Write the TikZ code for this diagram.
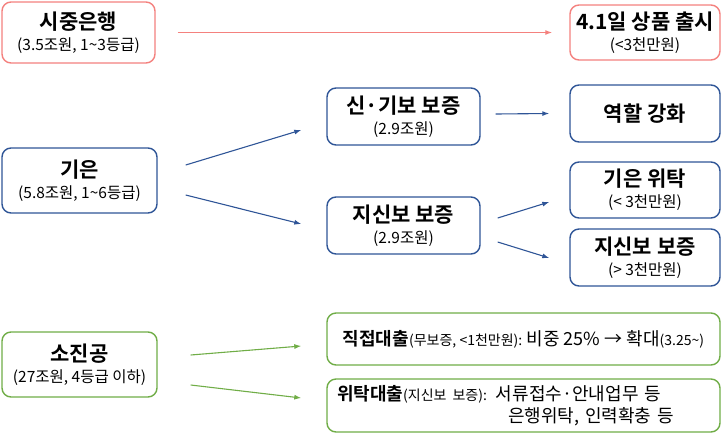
\documentclass[tikz,border=0pt]{standalone}
\usepackage{fontspec}
\setmainfont{Noto Sans CJK KR}[BoldFont={Noto Sans CJK KR Bold}]
\usetikzlibrary{arrows.meta}

\definecolor{boxred}{HTML}{F4817E}
\definecolor{boxblue}{HTML}{2F5597}
\definecolor{boxgreen}{HTML}{70AD47}

\newcommand{\ttl}[1]{{\bfseries\fontsize{21}{24}\selectfont #1}}
\newcommand{\sub}[1]{{\fontsize{15.5}{17}\selectfont #1}}
\newcommand{\note}[1]{{\fontsize{14}{15}\selectfont #1}}

\tikzset{
  box/.style={draw, rounded corners=9pt, line width=1.4pt, fill=white,
    align=center, inner sep=2pt, font=\fontsize{15}{21}\selectfont},
  redbox/.style={box, draw=boxred},
  bluebox/.style={box, draw=boxblue},
  greenbox/.style={box, draw=boxgreen},
  link/.style={line width=1.1pt, -{Latex[length=7pt,width=5pt]}},
}

\begin{document}
\begin{tikzpicture}[x=1pt, y=-1pt]
  \useasboundingbox (0,0) rectangle (723,440);

  % Left column
  \node[redbox, minimum width=153pt, minimum height=61pt] (bank) at (78.5,32.5)
    {\ttl{시중은행}\\\sub{(3.5조원, 1\textasciitilde3등급)}};
  \node[bluebox, minimum width=155pt, minimum height=65pt] (ibk) at (79.5,180.5)
    {\ttl{기은}\\\sub{(5.8조원, 1\textasciitilde6등급)}};
  \node[greenbox, minimum width=155pt, minimum height=65pt] (semas) at (79.5,364.5)
    {\ttl{소진공}\\\sub{(27조원, 4등급 이하)}};

  % Middle column
  \node[bluebox, minimum width=153pt, minimum height=57pt] (kodit) at (403.5,116.5)
    {\ttl{신·기보 보증}\\\sub{(2.9조원)}};
  \node[bluebox, minimum width=153pt, minimum height=57pt] (local) at (403.5,225.5)
    {\ttl{지신보 보증}\\\sub{(2.9조원)}};

  % Right column
  \node[redbox, minimum width=150pt, minimum height=55pt] (launch) at (645,32.5)
    {\ttl{4.1일 상품 출시}\\\sub{(<3천만원)}};
  \node[bluebox, minimum width=150pt, minimum height=57pt] (role) at (645,113.5)
    {\ttl{역할 강화}};
  \node[bluebox, minimum width=150pt, minimum height=56pt] (trust) at (645,190)
    {\ttl{기은 위탁}\\\sub{(< 3천만원)}};
  \node[bluebox, minimum width=150pt, minimum height=57pt] (guar) at (645,257.5)
    {\ttl{지신보 보증}\\\sub{(> 3천만원)}};

  % Bottom boxes
  \node[greenbox, minimum width=393pt, minimum height=52pt] (direct) at (523.5,339)
    {{\bfseries\fontsize{18}{20}\selectfont 직접대출}\note{(무보증, <1천만원):}
     {\fontsize{18}{20}\selectfont 비중 25\% → 확대}\note{(3.25\textasciitilde)}};
  \node[greenbox, minimum width=393pt, minimum height=53pt, align=left,
    text width=373pt, font=\fontsize{18}{22}\selectfont] (agency) at (523.5,405.5)
    {{\bfseries 위탁대출}\note{(지신보 보증):} 서류접수·안내업무 등\\
     \hspace*{171pt}은행위탁, 인력확충 등};

  % Connectors
  \draw[link, boxred] ([xshift=22pt]bank.east) -- ([xshift=-17pt]launch.west);
  \draw[link, boxblue] ([xshift=28pt,yshift=15.5pt]ibk.east) -- ([xshift=-25pt,yshift=-13.5pt]kodit.west);
  \draw[link, boxblue] ([xshift=28pt,yshift=-14.5pt]ibk.east) -- ([xshift=-25pt,yshift=1.5pt]local.west);
  \draw[link, boxblue] ([xshift=15pt,yshift=2.5pt]kodit.east) -- ([xshift=-20pt]role.west);
  \draw[link, boxblue] ([xshift=17pt,yshift=7.5pt]local.east) -- ([xshift=-20pt,yshift=-12pt]trust.west);
  \draw[link, boxblue] ([xshift=17pt,yshift=-16.5pt]local.east) -- ([xshift=-20pt,yshift=-0.5pt]guar.west);
  \draw[link, boxgreen] ([xshift=33pt,yshift=9.5pt]semas.east) -- ([xshift=-25pt,yshift=-7pt]direct.west);
  \draw[link, boxgreen] ([xshift=33pt,yshift=-20.5pt]semas.east) -- ([xshift=-25pt,yshift=7.5pt]agency.west);
\end{tikzpicture}
\end{document}
